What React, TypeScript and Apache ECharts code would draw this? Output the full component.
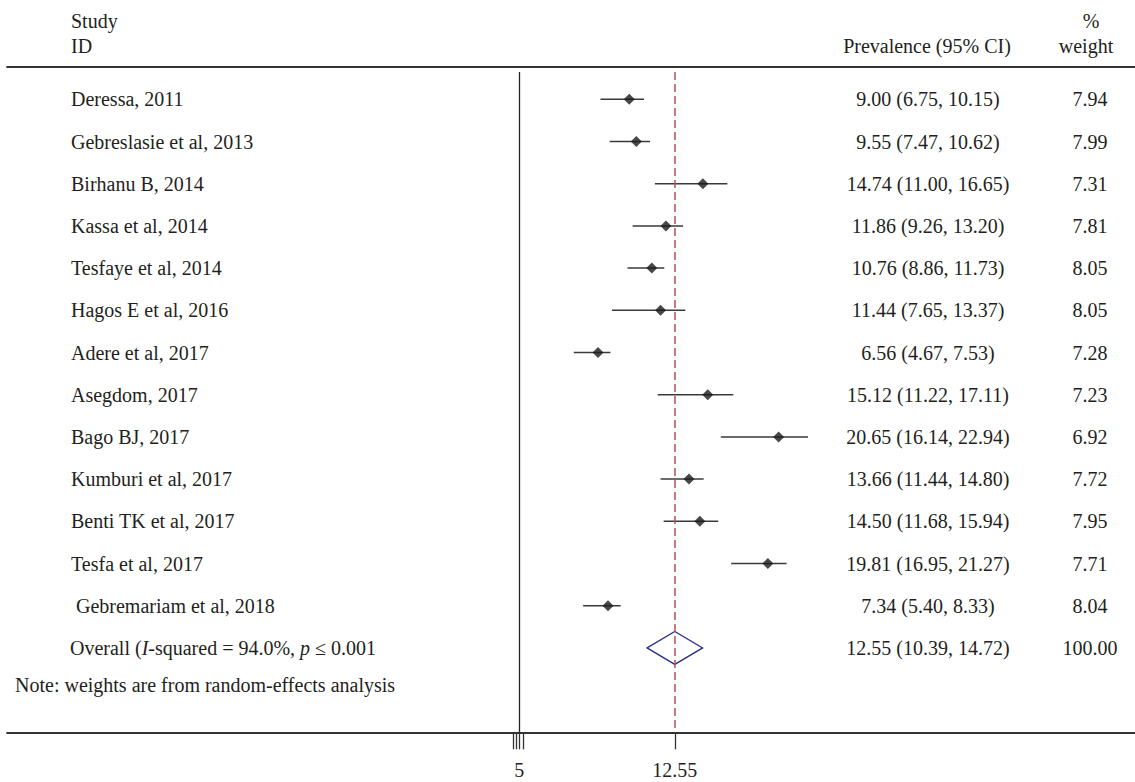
import React, { useEffect, useRef } from "react";
import * as echarts from "echarts";

// ---- data ----
const studies = [
  "Deressa, 2011",
  "Gebreslasie et al, 2013",
  "Birhanu B, 2014",
  "Kassa et al, 2014",
  "Tesfaye et al, 2014",
  "Hagos E et al, 2016",
  "Adere et al, 2017",
  "Asegdom, 2017",
  "Bago BJ, 2017",
  "Kumburi et al, 2017",
  "Benti TK et al, 2017",
  "Tesfa et al, 2017",
  " Gebremariam et al, 2018",
];
const estimates = [9.0, 9.55, 14.74, 11.86, 10.76, 11.44, 6.56, 15.12, 20.65, 13.66, 14.5, 19.81, 7.34];
const lowerCI = [6.75, 7.47, 11.0, 9.26, 8.86, 7.65, 4.67, 11.22, 16.14, 11.44, 11.68, 16.95, 5.4];
const upperCI = [10.15, 10.62, 16.65, 13.2, 11.73, 13.37, 7.53, 17.11, 22.94, 14.8, 15.94, 21.27, 8.33];
const weights = [7.94, 7.99, 7.31, 7.81, 8.05, 8.05, 7.28, 7.23, 6.92, 7.72, 7.95, 7.71, 8.04];

const overallEstimate = [12.55];
const overallLower = [10.39];
const overallUpper = [14.72];
const overallWeight = [100.0];
const overallLabel = "Overall ({i|I}-squared = 94.0%, {i|p} ≤ 0.001";
const noteText = "Note: weights are from random-effects analysis";

const headerStudy = ["Study", "ID"];
const headerEffect = "Prevalence (95% CI)";
const headerWeight = ["%", "weight"];

const tickValues = [-0.05, 0.19, 0.42, 0.73, 12.55];
const tickLabelValues = [0.42, 12.55];
const tickLabels = ["5", "12.55"];
const nullLineValue = 0.42;
const pooledLineValue = 12.55;

// ---- layout / style ----
const FONT = '"Liberation Serif", "Times New Roman", serif';
const FS = 20;
const TEXT = "#231f20";
const X_PER_UNIT = 12.82;
const X_ZERO_PX = 513.9;
const GRID_LEFT = 7;
const GRID_TOP = 66.7;
const GRID_BOTTOM_PX = 732.3;
const ROW0_PX = 99.3;
const ROW_H = 42.2;

const xMin = (GRID_LEFT - X_ZERO_PX) / X_PER_UNIT;
const xMax = (1135 - X_ZERO_PX) / X_PER_UNIT;
const yMin = (GRID_TOP - ROW0_PX) / ROW_H;
const yMax = (GRID_BOTTOM_PX - ROW0_PX) / ROW_H;
const lineTop = (72 - ROW0_PX) / ROW_H;
const overallRow = studies.length;
const noteRow = studies.length + 0.87;

const fmt = (v: number) => v.toFixed(2);

function textItem(x: number, y: number, text: string, align: string, rich?: any) {
  return {
    type: "text",
    x,
    y,
    style: {
      text,
      fontSize: FS,
      fontFamily: FONT,
      fill: TEXT,
      textAlign: align,
      textVerticalAlign: "middle",
      align,
      verticalAlign: "middle",
      rich,
    },
  };
}

export default function App() {
  const ref = useRef<HTMLDivElement>(null);
  useEffect(() => {
    if (!ref.current) return;
    const chart = echarts.init(ref.current, null, { renderer: "svg" });

    const rowsText = studies.map((s, i) => ({
      name: s,
      value: [0, i],
      effect: `${fmt(estimates[i])} (${fmt(lowerCI[i])}, ${fmt(upperCI[i])})`,
      weight: fmt(weights[i]),
    }));

    const option: any = {
      animation: false,
      grid: { left: GRID_LEFT, right: 0, top: GRID_TOP, bottom: 782 - GRID_BOTTOM_PX },
      xAxis: [
        {
          type: "value",
          min: xMin,
          max: xMax,
          position: "bottom",
          axisLine: { show: true, onZero: false, lineStyle: { color: "#333", width: 1.8 } },
          axisTick: {
            show: true,
            customValues: tickValues,
            length: 17,
            inside: false,
            lineStyle: { color: "#333", width: 1.3 },
          },
          axisLabel: {
            show: true,
            customValues: tickLabelValues,
            formatter: (v: number) => {
              const idx = tickLabelValues.findIndex((t) => Math.abs(t - v) < 1e-6);
              return idx >= 0 ? tickLabels[idx] : "";
            },
            margin: 28,
            fontFamily: FONT,
            fontSize: FS,
            color: TEXT,
          },
          splitLine: { show: false },
        },
        {
          type: "value",
          min: xMin,
          max: xMax,
          position: "top",
          axisLine: { show: true, onZero: false, lineStyle: { color: "#333", width: 1.8 } },
          axisTick: { show: false },
          axisLabel: { show: false },
          splitLine: { show: false },
        },
      ],
      yAxis: { type: "value", min: yMin, max: yMax, inverse: true, show: false, splitLine: { show: false } },
      graphic: [
        textItem(71, 21, headerStudy[0], "left"),
        textItem(71, 46, headerStudy[1], "left"),
        textItem(927, 46, headerEffect, "center"),
        textItem(1091, 21, headerWeight[0], "center"),
        textItem(1086, 46, headerWeight[1], "center"),
      ],
      series: [
        {
          type: "custom",
          name: "ci",
          data: studies.map((_, i) => [lowerCI[i], upperCI[i], i]),
          encode: { x: [0, 1], y: 2 },
          renderItem: (params: any, api: any) => {
            const p1 = api.coord([api.value(0), api.value(2)]);
            const p2 = api.coord([api.value(1), api.value(2)]);
            return {
              type: "line",
              shape: { x1: p1[0], y1: p1[1], x2: p2[0], y2: p2[1] },
              style: { stroke: "#3a3a3a", lineWidth: 1.5 },
            };
          },
          z: 2,
        },
        {
          type: "scatter",
          name: "estimates",
          data: estimates.map((v, i) => [v, i]),
          symbol: "diamond",
          symbolSize: [11, 11],
          itemStyle: { color: "#1a1a1a" },
          z: 4,
          markLine: {
            silent: true,
            symbol: ["none", "none"],
            label: { show: false },
            data: [
              [
                { coord: [nullLineValue, lineTop], lineStyle: { color: "#222", width: 1.3, type: "solid" } },
                { coord: [nullLineValue, yMax] },
              ],
              [
                { coord: [pooledLineValue, lineTop], lineStyle: { color: "#b5505e", width: 1.5, type: [8, 4] } },
                { coord: [pooledLineValue, yMax] },
              ],
            ],
          },
        },
        {
          type: "custom",
          name: "overall",
          data: [[overallLower[0], overallEstimate[0], overallUpper[0], overallRow]],
          encode: { x: [0, 1, 2], y: 3 },
          renderItem: (params: any, api: any) => {
            const row = api.value(3);
            const l = api.coord([api.value(0), row]);
            const c = api.coord([api.value(1), row]);
            const r = api.coord([api.value(2), row]);
            const h = 16.5;
            return {
              type: "polygon",
              shape: { points: [l, [c[0], c[1] - h], r, [c[0], c[1] + h]] },
              style: { stroke: "#2b2f8a", lineWidth: 1.3, fill: "none" },
            };
          },
          z: 3,
        },
        {
          type: "custom",
          name: "texts",
          data: rowsText.map((r) => r.value),
          encode: { x: 0, y: 1 },
          clip: false,
          renderItem: (params: any, api: any) => {
            const i = params.dataIndex;
            const y = api.coord([0, api.value(1)])[1];
            return {
              type: "group",
              children: [
                textItem(71, y, rowsText[i].name, "left"),
                textItem(928, y, rowsText[i].effect, "center"),
                textItem(1090, y, rowsText[i].weight, "center"),
              ],
            };
          },
        },
        {
          type: "custom",
          name: "overallText",
          data: [[0, overallRow]],
          encode: { x: 0, y: 1 },
          clip: false,
          renderItem: (params: any, api: any) => {
            const y = api.coord([0, api.value(1)])[1];
            const rich = {
              i: { fontStyle: "italic", fontSize: FS, fontFamily: FONT, fill: TEXT },
            };
            return {
              type: "group",
              children: [
                textItem(70, y, overallLabel, "left", rich),
                textItem(
                  928,
                  y,
                  `${fmt(overallEstimate[0])} (${fmt(overallLower[0])}, ${fmt(overallUpper[0])})`,
                  "center"
                ),
                textItem(1090, y, fmt(overallWeight[0]), "center"),
              ],
            };
          },
        },
        {
          type: "custom",
          name: "note",
          data: [[0, noteRow]],
          encode: { x: 0, y: 1 },
          clip: false,
          renderItem: (params: any, api: any) => {
            const y = api.coord([0, api.value(1)])[1];
            return textItem(15, y, noteText, "left");
          },
        },
      ],
    };

    chart.setOption(option);
    return () => chart.dispose();
  }, []);

  return (
    <div
      ref={ref}
      style={{ position: "absolute", left: 0, top: 0, width: 1135, height: 782, background: "#fff" }}
    />
  );
}
